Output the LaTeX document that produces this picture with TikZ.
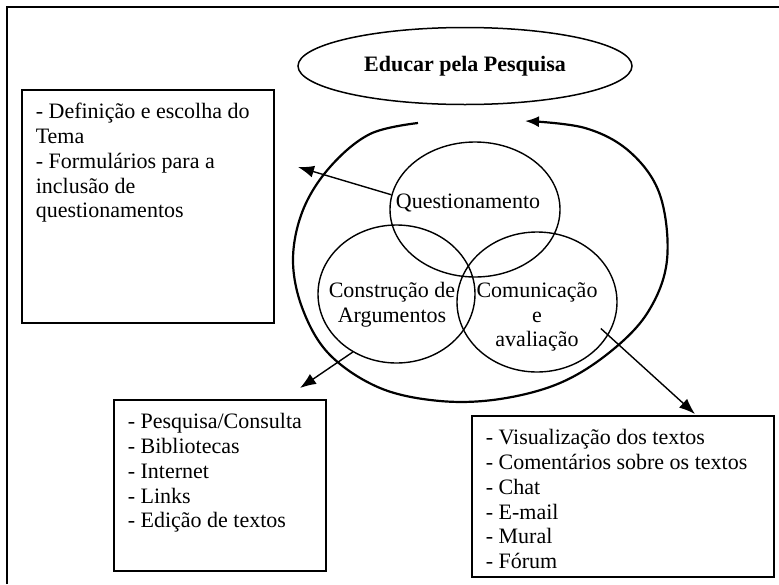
\documentclass[tikz,border=0pt]{standalone}
\usepackage{fontspec}
\setmainfont{Liberation Serif}
\usetikzlibrary{shapes,arrows.meta}
\tikzstyle{listbox}=[draw, line width=1.6pt, anchor=north west, inner xsep=14pt, inner ysep=11.6pt]
\tikzstyle{venn}=[draw, ellipse, line width=1.4pt, inner sep=0pt]
\tikzstyle{pointer}=[line width=1.4pt, -{Latex[length=16pt,width=12pt]}]
\newcommand{\itemlist}[3]{\parbox[t][#1][t]{#2}{\strut #3}}

\begin{document}
\begin{tikzpicture}[x=1pt, y=-1pt, font=\fontsize{22pt}{24.8pt}\selectfont]
\useasboundingbox (0,0) rectangle (779,584);
\draw[line width=2pt] (7,584) -- (7,7) -- (779,7);
\node[draw, ellipse, line width=1.5pt, inner sep=0pt, minimum width=334pt, minimum height=77pt] (title) at (465,66) {\textbf{Educar pela Pesquisa}};
% the three circles
\node[venn, minimum width=170pt, minimum height=135pt] (quest) at (475,209.5) {};
\node[venn, minimum width=157pt, minimum height=138pt] (constr) at (396.5,294) {};
\node[venn, minimum width=160pt, minimum height=140pt] (comun) at (537,302) {};
\node (questlab) at (468,203) {Questionamento};
\node[align=center] (constrlab) at (392,305) {Construção de\\Argumentos};
\node[align=center] (comunlab) at (537,317) {Comunicação\\e\\avaliação};
% cycle round the circles
\draw[line width=2.2pt, -{Latex[length=14pt,width=11pt]}] plot[smooth, tension=0.6] coordinates {(418,123) (370,134) (330,167) (303,210) (293,260) (303,310) (330,355) (380,388) (440,401) (500,399) (560,383) (610,352) (648,312) (667,260) (660,195) (630,152) (585,128) (525,121)};
% boxes
\node[listbox] (defbox) at (21,89) {\itemlist{209.8pt}{224pt}{- Definição e escolha do\\Tema\\- Formulários para a\\inclusão de\\questionamentos}};
\node[listbox] (resbox) at (113,399) {\itemlist{147.8pt}{184pt}{- Pesquisa/Consulta\\- Bibliotecas\\- Internet\\- Links\\- Edição de textos}};
\node[listbox] (msgbox) at (471,415) {\itemlist{137.8pt}{274pt}{- Visualização dos textos\\- Comentários sobre os textos\\- Chat\\- E-mail\\- Mural\\- Fórum}};
\coordinate (questend) at (298,167);
\coordinate (constrend) at (300,388);
\coordinate (comunend) at (695,414);
\draw[pointer] (quest.170) -- (questend);
\draw[pointer] (constr.233) -- (constrend);
\draw[pointer, shorten <=-10pt] (comun.-25) -- (comunend);
\end{tikzpicture}
\end{document}
